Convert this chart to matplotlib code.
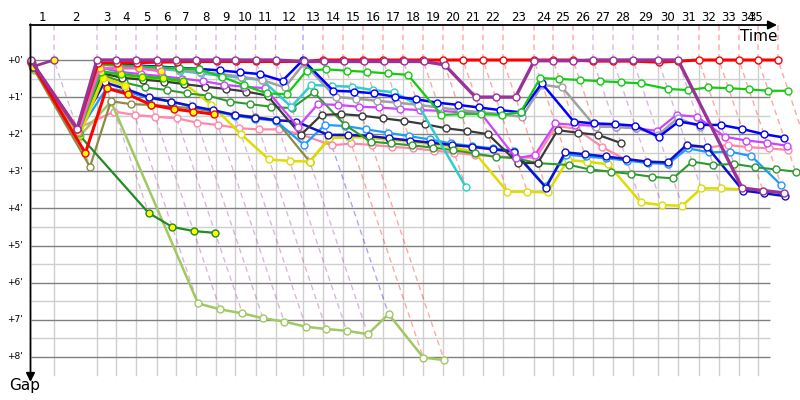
import matplotlib
matplotlib.use("Agg")
import matplotlib.pyplot as plt

# ---------------- data ----------------
# leader's cumulative time (minutes) at the end of each lap; index 0 = start
lap_times = [0.00, 1.88, 5.32, 6.84, 8.44, 10.12, 11.64, 13.24, 14.84, 16.40,
             18.00, 19.60, 21.80, 23.40, 25.00, 26.60, 28.20, 29.80, 31.40, 33.00,
             34.60, 36.20, 37.80, 40.28, 41.80, 43.40, 45.00, 46.60, 48.20, 50.20,
             51.80, 53.48, 55.08, 56.68, 58.20, 59.80]
lap_labels = [str(n) for n in range(1, 36)]
lap_leader = (["purple"] * 11 + ["blue"] + ["red"] * 13 + ["purple"] * 5 + ["red"] * 5)
gap_ticks = [0, 1, 2, 3, 4, 5, 6, 7, 8]
gap_tick_labels = ["+%d'" % g for g in gap_ticks]

# gap to leader (minutes) per lap, starting at lap 0
purple = [0.00, 1.85, 0.00, 0.00, 0.00, 0.00, 0.00, 0.00, 0.00, 0.00, 0.00, 0.00,
          0.04, 0.04, 0.04, 0.04, 0.04, 0.04, 0.04, 0.13, 1.00, 1.00, 1.00,
          0.02, 0.02, 0.02, 0.00, 0.00, 0.00, 0.00, 0.00, 3.45, 3.52, 3.58]
red = [0.02, 1.86, 0.08, 0.08, 0.07, 0.06, 0.05, 0.04, 0.04, 0.04, 0.04, 0.04,
       0.04, 0, 0, 0, 0, 0, 0, 0, 0, 0, 0,
       0, 0, 0, 0.03, 0.03, 0.03, 0.06, 0.03, 0, 0, 0, 0, 0]
blue = [0.04, 1.90, 0.09, 0.12, 0.15, 0.18, 0.21, 0.24, 0.28, 0.33, 0.38, 0.56,
        0.00, 0.83, 0.85, 0.90, 0.99, 1.06, 1.15, 1.21, 1.28, 1.35, 1.41,
        0.63, 1.66, 1.71, 1.73, 1.77, 2.07, 1.66, 1.75, 1.75, 1.86, 2.00, 2.09]
green = [0.06, 1.92, 0.12, 0.14, 0.17, 0.20, 0.22, 0.25, 0.45, 0.68, 0.90, 0.92,
         0.29, 0.25, 0.29, 0.32, 0.36, 0.40, 1.48, 1.46, 1.46, 1.48, 1.41,
         0.49, 0.51, 0.54, 0.57, 0.60, 0.63, 0.78, 0.81, 0.74, 0.76, 0.79, 0.83, 0.83]
gray = [0.08, 1.94, 0.10, 0.14, 0.18, 0.22, 0.27, 0.32, 0.38, 0.45, 0.54, 0.74,
        0.09, 1.00, 1.04, 1.10, 1.15, 1.21, 1.28, 1.35, 1.41, 1.46, 1.53,
        0.67, 0.74, 1.80, 1.80, 1.84, 2.02, 1.57, 1.80]
cyan = [0.10, 1.96, 0.11, 0.16, 0.20, 0.24, 0.29, 0.36, 0.42, 0.48, 0.54, 1.26,
        0.67, 0.70, 0.72, 0.81, 0.87, 1.21, 3.41]
violet = [0.12, 1.98, 0.20, 0.32, 0.38, 0.44, 0.50, 0.57, 0.67, 0.72, 0.76, 1.80,
          1.19, 1.21, 1.26, 1.28, 1.32, 1.35, 1.37, 1.41, 1.44, 2.65, 2.56,
          1.71, 1.75, 1.77, 1.80, 1.84, 1.91, 1.48, 1.53, 2.07, 2.17, 2.23, 2.31]
darkgray = [0.14, 2.00, 0.35, 0.48, 0.53, 0.58, 0.65, 0.72, 0.78, 0.85, 0.96, 2.02,
            1.48, 1.46, 1.50, 1.57, 1.64, 1.73, 1.84, 1.91, 2.00, 2.77, 2.78,
            1.89, 1.96, 2.02, 2.24]
darkgreen = [0.16, 2.02, 0.40, 0.60, 0.74, 0.81, 0.90, 0.96, 1.12, 1.19, 1.26, 1.30,
             0.87, 1.75, 2.20, 2.25, 2.30, 2.36, 2.43, 2.52, 2.61, 2.65, 2.78,
             2.83, 2.95, 3.01, 3.07, 3.15, 3.19, 2.74, 2.83, 2.80, 2.89, 2.95, 3.01, 3.07]
navy = [0.18, 1.90, 0.60, 0.78, 1.00, 1.12, 1.24, 1.35, 1.48, 1.55, 1.62, 1.66,
        2.02, 2.02, 2.05, 2.11, 2.17, 2.23, 2.29, 2.34, 2.41, 2.47, 3.44,
        2.49, 2.54, 2.60, 2.67, 2.74, 2.76, 2.29, 2.35, 3.52, 3.59, 3.67]
skyblue = [0.20, 1.95, 0.76, 0.85, 1.03, 1.12, 1.26, 1.38, 1.50, 1.58, 1.64, 2.29,
           1.75, 1.78, 1.87, 1.96, 2.05, 2.14, 2.25, 2.32, 2.38, 2.44, 3.40,
           2.55, 2.60, 2.65, 2.71, 2.78, 2.80, 2.38, 2.49, 2.47, 2.59, 3.37]
olive = [0.22, 2.88, 1.11, 1.19, 1.21, 1.26, 1.30, 1.39, 1.47, 1.53, 1.62, 2.74, 2.11, 2.07]
yellow = [0.10, 2.00, 0.40, 0.42, 0.48, 0.54, 0.62, 1.20, 2.00, 2.68, 2.72, 2.74,
          2.11, 2.07, 2.10, 2.15, 2.20, 2.27, 2.35, 2.47, 3.55, 3.55, 3.57,
          2.70, 2.74, 2.81, 3.84, 3.91, 3.93, 3.46, 3.46, 3.49, 3.52]
pink = [0.24, 1.85, 1.39, 1.48, 1.53, 1.57, 1.69, 1.75, 1.84, 1.87, 1.87, 2.00,
        2.30, 2.25, 2.29, 2.34, 2.38, 2.44, 2.50, 2.56, 2.60, 2.62, 2.64,
        1.78, 1.85, 2.35, 2.70, 2.75, 2.80, 2.33, 2.36, 2.29, 2.35, 2.38, 2.43]
lightgreen = [0.26, 2.05, 1.12, 6.56, 6.72, 6.83, 6.96, 7.05, 7.19, 7.25, 7.30, 7.39,
              6.85, 8.02, 8.09]
# retired cars (drawn with yellow markers)
red_out = [0.05, 2.51, 0.76, 0.92, 1.21, 1.32, 1.39, 1.46]
darkgreen_out = [0.20, 2.02, 4.12, 4.50, 4.61, 4.66]
magenta_out = [0.07, 1.95, 0.22, 0.22, 0.22, 0.30]
green_out = [0.11, 1.97, 0.31, 0.38, 0.45, 0.49, 0.57]
yellow_out = [0.13, 2.03, 0.48, 0.69]
purple_out = [0.18, 0.00]

colors = {"purple": "#993399", "red": "#ff0000", "blue": "#0000ff",
          "green": "#11cc11", "gray": "#a0a0a0", "cyan": "#33cccc",
          "violet": "#cc44ff", "darkgray": "#3a3a3a", "darkgreen": "#2e9a2e",
          "navy": "#1010c8", "skyblue": "#1e9bff", "olive": "#8b8b45",
          "yellow": "#dddd00", "pink": "#ff88aa", "lightgreen": "#a0c864",
          "forest": "#228b22", "magenta": "#ee66cc"}

WHITE = "#ffffff"
YEL = "#ffff00"
drivers = [
    (pink, colors["pink"], WHITE, 1.6),
    (lightgreen, colors["lightgreen"], WHITE, 1.8),
    (olive, colors["olive"], WHITE, 1.6),
    (yellow, colors["yellow"], WHITE, 1.8),
    (skyblue, colors["skyblue"], WHITE, 1.6),
    (navy, colors["navy"], WHITE, 1.8),
    (darkgreen, colors["darkgreen"], WHITE, 1.5),
    (darkgray, colors["darkgray"], WHITE, 1.6),
    (violet, colors["violet"], WHITE, 1.6),
    (cyan, colors["cyan"], WHITE, 1.8),
    (gray, colors["gray"], WHITE, 1.8),
    (blue, colors["blue"], WHITE, 1.8),
    (green, colors["green"], WHITE, 1.6),
    (darkgreen_out, colors["forest"], YEL, 1.6),
    (yellow_out, colors["yellow"], YEL, 2.2),
    (green_out, colors["green"], YEL, 2.0),
    (magenta_out, colors["magenta"], YEL, 2.0),
    (red_out, colors["red"], YEL, 2.2),
    (red, colors["red"], WHITE, 2.2),
    (purple_out, colors["purple"], YEL, 2.0),
    (purple, colors["purple"], WHITE, 2.4),
]

# ---------------- layout (pixel scale) ----------------
PX_X = 12.5    # pixels per minute along time
PX_Y = 37.1    # pixels per minute of gap
X0, Y0 = 30.5, 60.0

fig = plt.figure(figsize=(8, 4), dpi=100)
ax = fig.add_axes([0, 0, 1, 1])
ax.set_xlim(-X0 / PX_X, (800 - X0) / PX_X)
ax.set_ylim((400 - Y0) / PX_Y, -Y0 / PX_Y)
ax.axis("off")

top = (25 - Y0) / PX_Y
grid_bottom = 8.5
grid_right = (770 - X0) / PX_X
label_end = (756 - X0) / PX_X

# grid
for k in range(0, 17):
    g = k * 0.5
    major = (k % 2 == 0)
    ax.plot([0, grid_right], [g, g], color="#808080" if major else "#cfcfcf",
            lw=1.0, zorder=0.5 if major else 0.3, solid_capstyle="butt")
for t in lap_times[1:]:
    if t <= grid_right:
        ax.plot([t, t], [0, grid_bottom], color="#cfcfcf", lw=1.0, zorder=0.3)

# iso-lap dashed lines
all_gaps = [d[0] for d in drivers]
for n in range(1, len(lap_times)):
    t = lap_times[n]
    gmax = max(g[n] for g in all_gaps if len(g) > n)
    ax.plot([t, t, t + gmax], [top, 0, gmax], color=colors[lap_leader[n - 1]],
            alpha=0.35, lw=1.0, ls=(0, (4, 3)), zorder=1)

# axes with arrows
ax.annotate("", xy=((777 - X0) / PX_X, top), xytext=(-0.05, top),
            arrowprops=dict(arrowstyle="-|>", color="black", lw=1.3,
                            mutation_scale=13, shrinkA=0, shrinkB=0), zorder=5)
ax.annotate("", xy=(0, (382 - Y0) / PX_Y), xytext=(0, top - 0.02),
            arrowprops=dict(arrowstyle="-|>", color="black", lw=1.3,
                            mutation_scale=13, shrinkA=0, shrinkB=0), zorder=5)
ax.text((777 - X0) / PX_X, (36 - Y0) / PX_Y, "Time", ha="right", va="center",
        fontsize=11, color="black")
ax.text((25 - X0) / PX_X, (385 - Y0) / PX_Y, "Gap", ha="center", va="center",
        fontsize=11, color="black")

# lap labels
for n, lab in enumerate(lap_labels, start=1):
    a = min(lap_times[n - 1], label_end)
    b = min(lap_times[n], label_end)
    ax.text((a + b) / 2, (17 - Y0) / PX_Y, lab, ha="center", va="center",
            fontsize=8.5, color="black")

# gap labels
for g, lab in zip(gap_ticks, gap_tick_labels):
    ax.text((23 - X0) / PX_X, g, lab, ha="right", va="center", fontsize=6.5,
            color="black")

# driver lines
for i, (gaps, col, face, lw) in enumerate(drivers):
    xs = [lap_times[n] + g for n, g in enumerate(gaps)]
    ax.plot(xs, gaps, color=col, lw=lw, marker="o", ms=5, mfc=face, mec=col,
            mew=1.0, zorder=3 + i * 0.01, solid_joinstyle="round")

fig.savefig("out.png", dpi=100)
